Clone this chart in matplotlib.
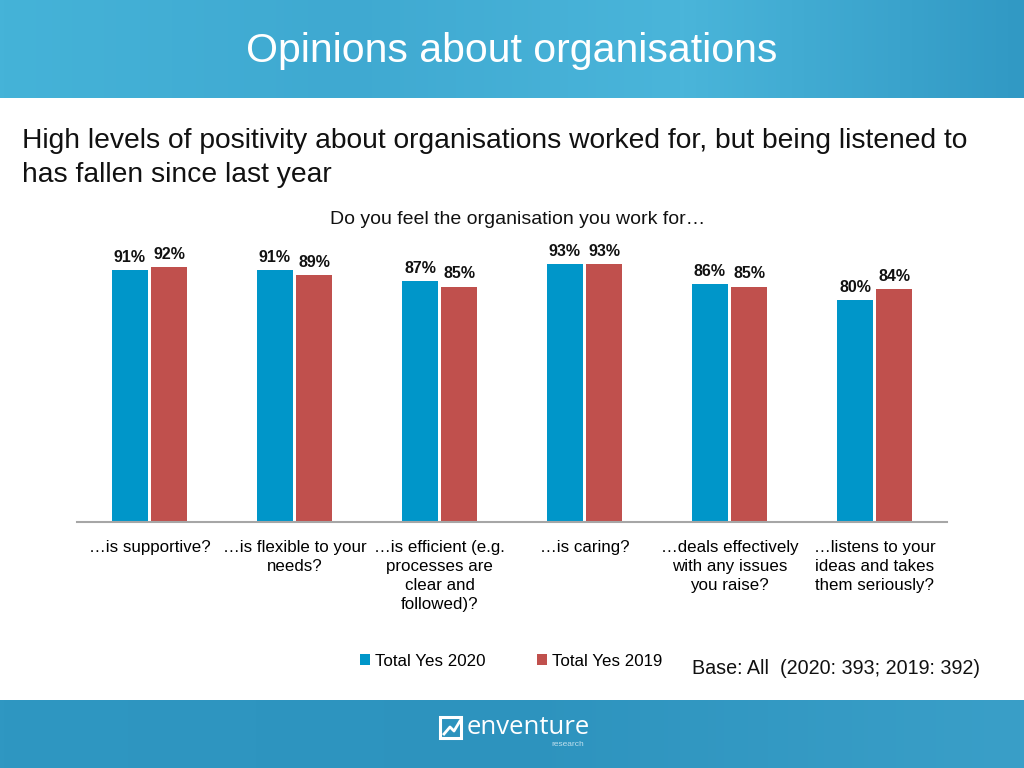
import matplotlib
matplotlib.use("Agg")
import matplotlib.pyplot as plt
import numpy as np
from matplotlib.patches import Rectangle
from matplotlib.colors import LinearSegmentedColormap

categories = ["…is supportive?", "…is flexible to your\nneeds?",
              "…is efficient (e.g.\nprocesses are\nclear and\nfollowed)?",
              "…is caring?", "…deals effectively\nwith any issues\nyou raise?",
              "…listens to your\nideas and takes\nthem seriously?"]
yes_2020 = [91, 91, 87, 93, 86, 80]
yes_2019 = [92, 89, 85, 93, 85, 84]
series_names = ["Total Yes 2020", "Total Yes 2019"]

BLUE = "#0096c9"
RED = "#c0504d"
W, H = 1024, 768

plt.rcParams['font.family'] = ['Liberation Sans', 'DejaVu Sans']
fig = plt.figure(figsize=(W/100, H/100), dpi=100)

# background bands
bg = fig.add_axes([0, 0, 1, 1], zorder=-10)
bg.axis('off')
grad = np.linspace(0, 1, 256).reshape(1, -1)
cm_h = LinearSegmentedColormap.from_list("h", ["#45b3d8", "#3fa9d1", "#4ab5da", "#3199c4"])
bg.imshow(grad, extent=[0, W, 98, 0], aspect='auto', cmap=cm_h)
cm_f = LinearSegmentedColormap.from_list("f", ["#2f97c2", "#2d93be", "#3a9fc8"])
bg.imshow(grad, extent=[0, W, H, 700], aspect='auto', cmap=cm_f)
bg.set_xlim(0, W); bg.set_ylim(H, 0)

fig.text(512/W, 1-51/H, "Opinions about organisations", color="white",
         fontsize=29.5, ha='center', va='center')
fig.text(22/W, 1-141/H, "High levels of positivity about organisations worked for, but being listened to",
         fontsize=20.3, ha='left', va='center', color="#111111")
fig.text(22/W, 1-175/H, "has fallen since last year",
         fontsize=20.3, ha='left', va='center', color="#111111")
fig.text(518/W, 1-219/H, "Do you feel the organisation you work for…",
         fontsize=14, ha='center', va='center', color="#111111")

# chart axes
x0, x1 = 77, 947
ybase, ytop = 522, 245
ax = fig.add_axes([x0/W, 1-ybase/H, (x1-x0)/W, (ybase-ytop)/H])
n = len(categories)
x = np.arange(n)
bw = 0.255
gap = 0.007
b1 = ax.bar(x - bw/2 - gap, yes_2020, bw, color=BLUE, label=series_names[0])
b2 = ax.bar(x + bw/2 + gap, yes_2019, bw, color=RED, label=series_names[1])
ax.set_xlim(-0.5, n-0.5)
ax.set_ylim(0, 100)
for s in ['top', 'right', 'left']:
    ax.spines[s].set_visible(False)
ax.spines['bottom'].set_color("#a6a6a6")
ax.spines['bottom'].set_linewidth(1.5)
ax.set_yticks([])
ax.set_xticks(x)
ax.set_xticklabels(categories, fontsize=12.2, linespacing=1.33, va='top', ma='center')
ax.tick_params(axis='x', length=0, pad=13)
for bars, vals in ((b1, yes_2020), (b2, yes_2019)):
    for r, v in zip(bars, vals):
        ax.text(r.get_x() + r.get_width()/2, v + 1.9, f"{v}%", ha='center', va='bottom',
                fontsize=11.5, fontweight='bold', color="#111111")

# legend
leg = fig.legend(handles=[b1, b2], labels=series_names, loc='center',
                 bbox_to_anchor=(511/W, 1-661/H), ncol=2, frameon=False,
                 fontsize=12.2, handlelength=0.6, handleheight=0.6,
                 handletextpad=0.3, columnspacing=3.0)

fig.text(692/W, 1-668/H, "Base: All  (2020: 393; 2019: 392)", fontsize=14.2,
         ha='left', va='center', color="#111111")

# footer logo
fig.text(467/W, 1-727/H, "enventure", color="white", fontsize=18.5, ha='left', va='center',
         family=['Open Sans', 'DejaVu Sans'])
fig.text(584/W, 1-745/H, "research", color="#bfe0ee", fontsize=6, ha='right', va='center')
bg.add_patch(Rectangle((440, 717), 21, 21, fill=False, edgecolor='white', linewidth=2.2))
bg.plot([444, 450, 454, 460], [734, 727, 731, 721], color='white', linewidth=2)

fig.savefig("out.png", dpi=100)
